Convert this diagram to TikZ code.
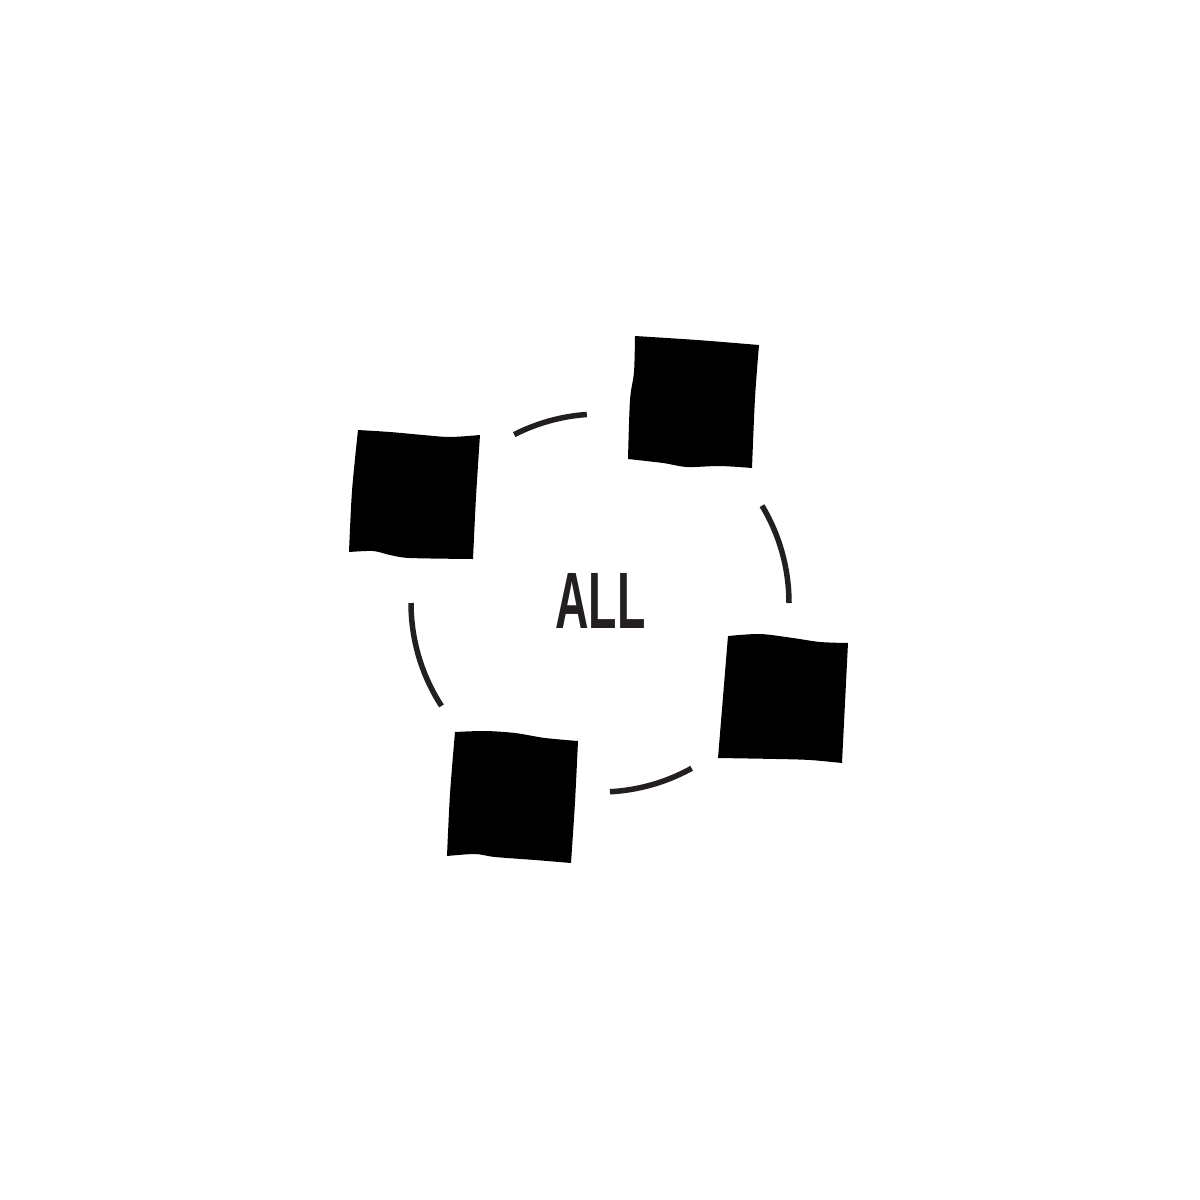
\documentclass[tikz,border=0pt]{standalone}
\usepackage{fontspec}
\newfontfamily\allfont{Liberation Sans}
\definecolor{ink}{HTML}{231F20}
\begin{document}
\begin{tikzpicture}[x=1pt,y=-1pt,
  ring/.style={draw=ink,line width=5.5pt},
  tile/.style={fill=black}]
\useasboundingbox[fill=white] (0,0) rectangle (1200,1200);
% tiles
\fill[tile] plot[smooth] coordinates {(358,430) (390,432) (423,435) (450,437) (480,435)}
  -- plot[smooth] coordinates {(480,435) (476,497) (473,559)}
  -- plot[smooth] coordinates {(473,559) (410,558) (390,555) (373,551) (349,552)}
  -- plot[smooth] coordinates {(349,552) (352,491) (358,430)} -- cycle;
\fill[tile] plot[smooth] coordinates {(635,336) (697,340) (759,345)}
  -- plot[smooth] coordinates {(759,345) (755,398) (752,468)}
  -- plot[smooth] coordinates {(752,468) (720,466) (687,467) (663,463) (628,459)}
  -- plot[smooth] coordinates {(628,459) (630,400) (634,372) (635,336)} -- cycle;
\fill[tile] plot[smooth] coordinates {(728,636) (760,634) (793,638) (820,642) (848,643)}
  -- plot[smooth] coordinates {(848,643) (845,703) (842,763)}
  -- plot[smooth] coordinates {(842,763) (810,760) (777,759) (718,758)}
  -- plot[smooth] coordinates {(718,758) (723,697) (728,636)} -- cycle;
\fill[tile] plot[smooth] coordinates {(455,732) (485,731) (515,733) (545,738) (578,741)}
  -- plot[smooth] coordinates {(578,741) (575,802) (571,863)}
  -- plot[smooth] coordinates {(571,863) (535,860) (495,857) (475,854) (447,856)}
  -- plot[smooth] coordinates {(447,856) (450,794) (455,732)} -- cycle;
% ring arcs
\draw[ring] plot[domain=94:117,samples=40] ({600+189*cos(\x)},{603-189*sin(\x)});
\draw[ring] plot[domain=0:31,samples=40] ({600+189*cos(\x)},{603-189*sin(\x)});
\draw[ring] plot[domain=-87:-61,samples=40] ({600+189*cos(\x)},{603-189*sin(\x)});
\draw[ring] plot[domain=180:213,samples=40] ({600+189*cos(\x)},{603-189*sin(\x)});
% label
\node[inner sep=0pt,text=ink] (all) at (600.5,600.5)
  {\scalebox{0.58}[1]{\allfont\bfseries\fontsize{80}{80}\selectfont ALL}};
\end{tikzpicture}
\end{document}
